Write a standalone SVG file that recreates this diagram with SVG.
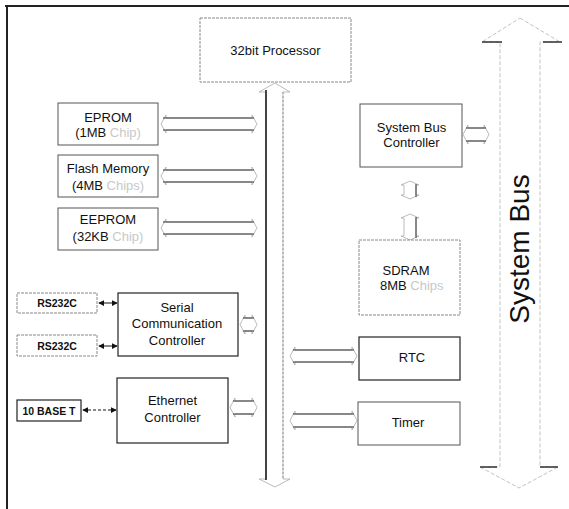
<svg xmlns="http://www.w3.org/2000/svg" width="569" height="509" viewBox="0 0 569 509">
<style>
text{font-family:"Liberation Sans",Arial,sans-serif;font-size:13px;fill:#111;text-anchor:middle}
.sm{font-size:10.5px;font-weight:bold}
.faint{fill:#c8c8c8}
.box{fill:#fff;stroke:#555;stroke-width:1}
.boxd{fill:#fff;stroke:#222;stroke-width:1.2}
.boxg{fill:#fff;stroke:#888;stroke-width:1;stroke-dasharray:3 1}
.ha{fill:none;stroke:#aaa;stroke-width:0.8}
.sh{fill:none;stroke:#333;stroke-width:1}
.dot{fill:none;stroke:#999;stroke-width:1;stroke-dasharray:2 2}
</style>
<defs>
<marker id="ah" viewBox="0 0 8 8" refX="7" refY="4" markerWidth="6" markerHeight="6" orient="auto-start-reverse">
<path d="M0,0 L8,4 L0,8 Z" fill="#111"/>
</marker>
</defs>
<g id="frame">
<line x1="5" y1="6" x2="569" y2="6" stroke="#222" stroke-width="2"/>
<line x1="7" y1="5" x2="7" y2="509" stroke="#222" stroke-width="2"/>
</g>
<g id="connectors">
<path class="ha" d="M275,83 L290,92 L283,92 L283,479 L290,479 L275,487 L259,479 L266,479 L266,92 L259,92 Z"/>
<line x1="266" y1="90" x2="266" y2="480" stroke="#111" stroke-width="1.5"/>
<line x1="283" y1="92" x2="283" y2="479" class="dot"/>
<path class="ha" d="M161,124 L166,115 L166,118 L252,118 L252,115 L257,124 L252,133 L252,130 L166,130 L166,133 Z"/>
<path class="sh" d="M163,118 H254 M163,130 H254"/>
<path class="ha" d="M161,176 L166,167 L166,170 L252,170 L252,167 L257,176 L252,185 L252,182 L166,182 L166,185 Z"/>
<path class="sh" d="M163,170 H254 M163,182 H254"/>
<path class="ha" d="M161,228 L166,219 L166,222 L252,222 L252,219 L257,228 L252,237 L252,234 L166,234 L166,237 Z"/>
<path class="sh" d="M163,222 H254 M163,234 H254"/>
<path class="ha" d="M463,134.5 L468,125 L468,128 L484,128 L484,125 L489,134.5 L484,144 L484,141 L468,141 L468,144 Z"/>
<path class="sh" d="M466,128 H486 M466,141 H486"/>
<path class="ha" d="M410,181 L419,185 L416,185 L416,195 L419,195 L410,199 L401,195 L404,195 L404,185 L401,185 Z"/>
<path class="sh" d="M416,184 V197"/>
<path class="ha" d="M410,214 L419,218 L416,218 L416,236 L419,236 L410,240 L401,236 L404,236 L404,218 L401,218 Z"/>
<path class="sh" d="M416,217 V238"/>
<path class="ha" d="M240,324.5 L245,315 L245,318 L252,318 L252,315 L257,324.5 L252,334 L252,331 L245,331 L245,334 Z"/>
<path class="sh" d="M243,318 H254 M243,331 H254"/>
<path class="ha" d="M230,407.5 L235,398 L235,401 L252,401 L252,398 L257,407.5 L252,417 L252,414 L235,414 L235,417 Z"/>
<path class="sh" d="M233,401 H254 M233,414 H254"/>
<path class="ha" d="M290,356 L295,347 L295,350 L352,350 L352,347 L357,356 L352,365 L352,362 L295,362 L295,365 Z"/>
<path class="sh" d="M293,350 H354 M293,362 H354"/>
<path class="ha" d="M290,420.5 L295,411 L295,414 L352,414 L352,411 L357,420.5 L352,430 L352,427 L295,427 L295,430 Z"/>
<path class="sh" d="M293,414 H354 M293,427 H354"/>
<line x1="99" y1="303" x2="117" y2="303" stroke="#111" stroke-width="1" marker-start="url(#ah)" marker-end="url(#ah)"/>
<line x1="99" y1="346" x2="117" y2="346" stroke="#111" stroke-width="1" marker-start="url(#ah)" marker-end="url(#ah)"/>
<line x1="83" y1="410" x2="116" y2="410" stroke="#111" stroke-width="1" stroke-dasharray="3 2" marker-start="url(#ah)" marker-end="url(#ah)"/>
</g>
<g id="system-bus">
<path d="M520,18 L560,42 L540,42 L540,467 L558,467 L519,488 L480,467 L500,467 L500,42 L482,42 Z" fill="none" stroke="#bbb" stroke-width="0.9" stroke-dasharray="4 2"/>
<path d="M482,42 H502 M543,42 H562 M480,467 H497 M540,467 H558" stroke="#333" stroke-width="1.3"/>
<text transform="translate(529,249) rotate(-90)" style="font-size:28px">System Bus</text>
</g>
<g id="processor">
<rect class="boxg" x="200" y="18" width="151" height="64"/>
<text x="275.5" y="55">32bit Processor</text>
</g>
<g id="eprom">
<rect class="box" x="58" y="103" width="100" height="42"/>
<text x="108" y="122">EPROM</text>
<text x="108" y="137">(1MB <tspan class="faint">Chip)</tspan></text>
</g>
<g id="flash">
<rect class="box" x="58" y="155" width="100" height="42"/>
<text x="108" y="173">Flash Memory</text>
<text x="108" y="190">(4MB <tspan class="faint">Chips)</tspan></text>
</g>
<g id="eeprom">
<rect class="box" x="58" y="208" width="100" height="42"/>
<text x="108" y="224">EEPROM</text>
<text x="108" y="241">(32KB <tspan class="faint">Chip)</tspan></text>
</g>
<g id="sbc">
<rect class="box" x="360" y="104" width="102" height="63"/>
<text x="411.5" y="132">System Bus</text>
<text x="411.5" y="147">Controller</text>
</g>
<g id="sdram">
<rect class="boxg" x="359" y="240" width="101" height="75"/>
<text x="406" y="275">SDRAM</text>
<text x="380" y="290" style="text-anchor:start">8MB <tspan class="faint">Chips</tspan></text>
</g>
<g id="rtc">
<rect class="boxd" x="359" y="337" width="101" height="43"/>
<text x="412" y="362">RTC</text>
</g>
<g id="timer">
<rect class="box" x="358" y="402" width="102" height="43"/>
<text x="408" y="427">Timer</text>
</g>
<g id="scc">
<rect class="boxd" x="118" y="293" width="120" height="63"/>
<text x="177" y="312">Serial</text>
<text x="177" y="328">Communication</text>
<text x="177" y="345">Controller</text>
</g>
<g id="rs232c-1">
<rect class="boxg" x="17" y="293" width="80" height="20"/>
<text class="sm" x="57" y="307">RS232C</text>
</g>
<g id="rs232c-2">
<rect class="boxg" x="17" y="335" width="80" height="21"/>
<text class="sm" x="57" y="350">RS232C</text>
</g>
<g id="ethernet">
<rect class="boxd" x="117" y="378" width="111" height="65"/>
<text x="172.5" y="405">Ethernet</text>
<text x="172.5" y="422">Controller</text>
</g>
<g id="base-t">
<rect class="boxd" x="17" y="400" width="64" height="21"/>
<text class="sm" x="49" y="415">10 BASE T</text>
</g>
</svg>
